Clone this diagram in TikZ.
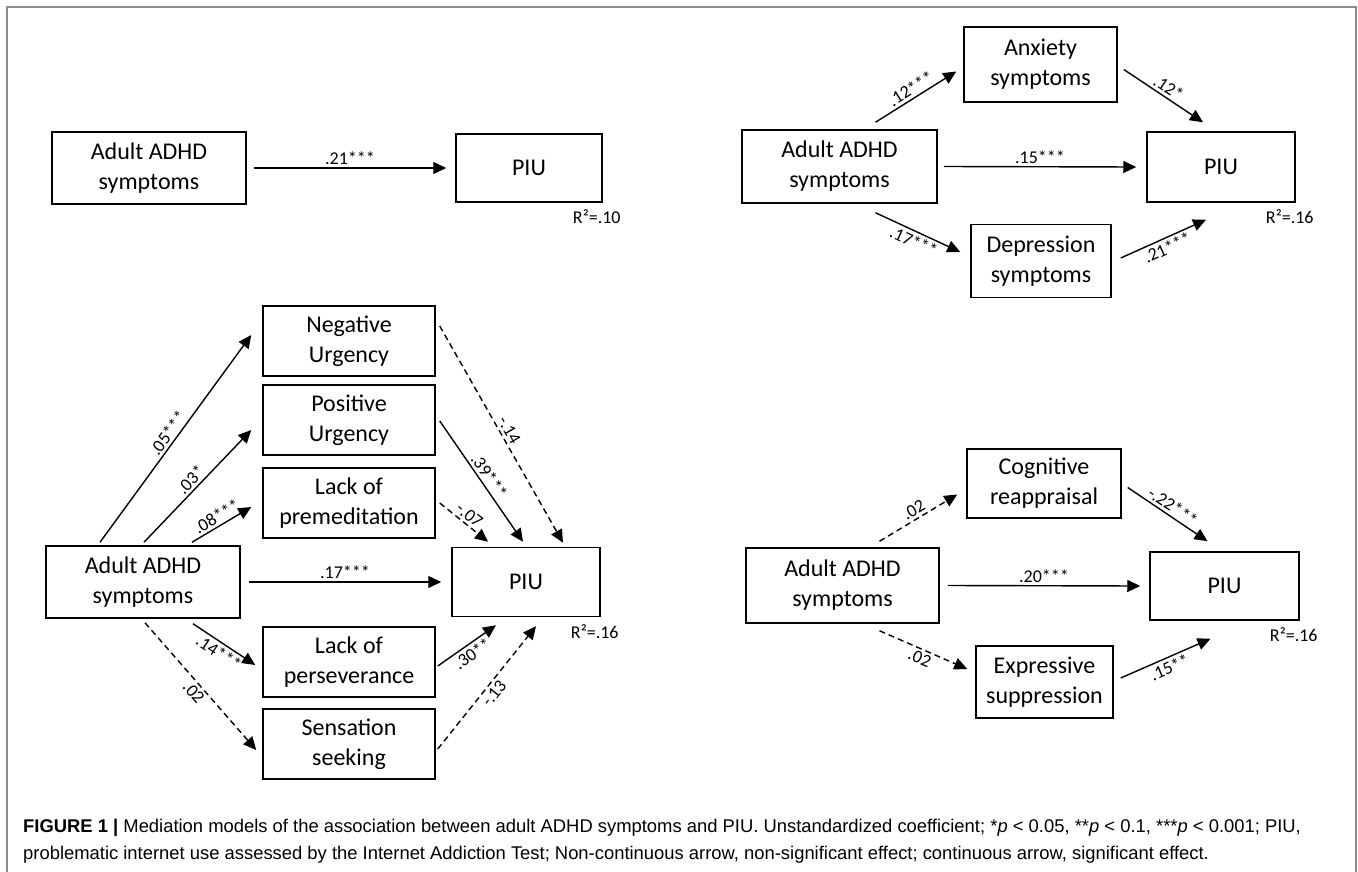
\documentclass[tikz,border=0pt]{standalone}
\usepackage{fontspec}
\setmainfont{Carlito}
\newfontfamily\capfont{Liberation Sans}
\usetikzlibrary{arrows.meta,positioning}

\begin{document}
\begin{tikzpicture}[x=1pt,y=-1pt,
    box/.style={draw, line width=1.5pt, inner sep=0pt, align=center,
        font=\fontsize{24}{30}\selectfont},
    eff/.style={line width=1.4pt, -{Triangle[length=13pt,width=12pt]}},
    noeff/.style={eff, dash pattern=on 6pt off 4pt},
    coef/.style={font=\fontsize{18}{20}\selectfont, inner sep=2.5pt},
    rsq/.style={font=\fontsize{18}{20}\selectfont, inner sep=0pt, anchor=north east},
    capt/.style={font=\capfont\fontsize{18.4}{22}\selectfont, inner sep=0pt, anchor=base west}]
    \useasboundingbox (0,0) rectangle (1358,872);
    % outer frame
    \draw[black!45, line width=1.2pt] (7,872) -- (7,7) -- (1356,7) -- (1356,872);

    % model 1: direct effect
    \node (tl_adhd) [box, minimum width=194pt, minimum height=72pt] at (149,168) {Adult ADHD\\symptoms};
    \node (tl_piu) [box, minimum width=146pt, minimum height=68pt] at (529,168) {PIU};
    \node (tl_r2) [rsq] at ([xshift=18pt,yshift=-7pt]tl_piu.south east) {R²=.10};
    \draw[eff] ([xshift=7pt]tl_adhd.east) -- node[coef, above] {.21***} ([xshift=-9pt]tl_piu.west);

    % model 2: anxiety and depression
    \node (tr_adhd) [box, minimum width=195pt, minimum height=73pt] at (839.5,166.5) {Adult ADHD\\symptoms};
    \node (tr_anx) [box, minimum width=153pt, minimum height=75pt] at (1040.5,64.5) {Anxiety\\symptoms};
    \node (tr_dep) [box, minimum width=140pt, minimum height=73pt] at (1041,261) {Depression\\symptoms};
    \node (tr_piu) [box, minimum width=148pt, minimum height=70pt] at (1221,167) {PIU};
    \node (tr_r2) [rsq] at ([xshift=18pt,yshift=-7pt]tr_piu.south east) {R²=.16};
    \draw[eff] ([xshift=36pt,yshift=7pt]tr_adhd.north) -- node[coef, sloped, above] {.12***} ([xshift=-7pt,yshift=-7pt]tr_anx.west);
    \draw[eff] ([xshift=6pt,yshift=-5pt]tr_anx.east) -- node[coef, sloped, above] {.12*} ([xshift=-18pt,yshift=9pt]tr_piu.north);
    \draw[eff] ([xshift=6pt]tr_adhd.east) -- node[coef, above] {.15***} ([xshift=-10pt]tr_piu.west);
    \draw[eff] ([xshift=36pt,yshift=-9pt]tr_adhd.south) -- node[coef, sloped, below] {.17***} ([xshift=-10pt,yshift=9pt]tr_dep.west);
    \draw[eff] ([xshift=9pt,yshift=3pt]tr_dep.east) -- node[coef, sloped, below] {.21***} ([xshift=-15pt,yshift=-17pt]tr_piu.south);

    % model 3: impulsivity (UPPS-P)
    \node (bl_adhd) [box, minimum width=194pt, minimum height=72pt] at (143,582) {Adult ADHD\\symptoms};
    \node (bl_piu) [box, minimum width=148pt, minimum height=69pt] at (526,582) {PIU};
    \node (bl_r2) [rsq] at ([xshift=18pt,yshift=-7pt]bl_piu.south east) {R²=.16};
    \node (bl_neg) [box, minimum width=172pt, minimum height=70pt] at (349,341) {Negative\\Urgency};
    \node (bl_pos) [box, minimum width=172pt, minimum height=70pt] at (349,420) {Positive\\Urgency};
    \node (bl_pre) [box, minimum width=172pt, minimum height=70pt] at (349,503) {Lack of\\premeditation};
    \node (bl_per) [box, minimum width=172pt, minimum height=70pt] at (349,662) {Lack of\\perseverance};
    \node (bl_sen) [box, minimum width=172pt, minimum height=70pt] at (349,744) {Sensation\\seeking};
    \draw[eff] ([xshift=-43pt,yshift=3pt]bl_adhd.north) -- node[coef, sloped, above] {.05***} ([xshift=-11pt,yshift=6pt]bl_neg.west);
    \draw[eff] ([xshift=1pt,yshift=3pt]bl_adhd.north) -- node[coef, sloped, above] {.03*} ([xshift=-11pt,yshift=-10pt]bl_pos.west);
    \draw[eff] ([xshift=49pt,yshift=3pt]bl_adhd.north) -- node[coef, sloped, above] {.08***} ([xshift=-11pt,yshift=-4pt]bl_pre.west);
    \draw[noeff] ([xshift=4pt,yshift=15pt]bl_neg.east) -- node[coef, sloped, above] {-.14} ([xshift=37pt,yshift=4pt]bl_piu.north);
    \draw[eff] ([xshift=4pt,yshift=-1pt]bl_pos.east) -- node[coef, sloped, above] {.39***} ([xshift=-3pt,yshift=5pt]bl_piu.north);
    \draw[noeff] ([xshift=4pt]bl_pre.east) -- node[coef, sloped, above] {-.07} ([xshift=-38pt,yshift=5pt]bl_piu.north);
    \draw[eff] ([xshift=8pt]bl_adhd.east) -- node[coef, above] {.17***} ([xshift=-10pt]bl_piu.west);
    \draw[eff] ([xshift=50pt,yshift=-5pt]bl_adhd.south) -- node[coef, sloped, below] {.14***} ([xshift=-7pt,yshift=-3pt]bl_per.west);
    \draw[noeff] ([xshift=2pt,yshift=-4pt]bl_adhd.south) -- node[coef, sloped, below] {.02} ([xshift=-6pt,yshift=-6pt]bl_sen.west);
    \draw[eff] ([xshift=2pt,yshift=-4pt]bl_per.east) -- node[coef, sloped, below] {.30**} ([xshift=-30pt,yshift=-8pt]bl_piu.south);
    \draw[noeff] ([xshift=2pt,yshift=-5pt]bl_sen.east) -- node[coef, sloped, below] {-.13} ([xshift=10pt,yshift=-9pt]bl_piu.south);

    % model 4: emotion regulation
    \node (br_adhd) [box, minimum width=193pt, minimum height=75pt] at (842.5,585.5) {Adult ADHD\\symptoms};
    \node (br_cog) [box, minimum width=154pt, minimum height=69pt] at (1044,483.5) {Cognitive\\reappraisal};
    \node (br_exp) [box, minimum width=137pt, minimum height=72pt] at (1044.5,682) {Expressive\\suppression};
    \node (br_piu) [box, minimum width=149pt, minimum height=68pt] at (1224.5,586) {PIU};
    \node (br_r2) [rsq] at ([xshift=18pt,yshift=-7pt]br_piu.south east) {R²=.16};
    \draw[noeff] ([xshift=37pt,yshift=6pt]br_adhd.north) -- node[coef, sloped, above] {.02} ([xshift=-9pt,yshift=-11pt]br_cog.west);
    \draw[eff] ([xshift=6pt,yshift=-4pt]br_cog.east) -- node[coef, sloped, above] {-.22***} ([xshift=-17pt,yshift=10pt]br_piu.north);
    \draw[eff] ([xshift=8pt]br_adhd.east) -- node[coef, above] {.20***} ([xshift=-9pt]br_piu.west);
    \draw[noeff] ([xshift=37pt,yshift=-7pt]br_adhd.south) -- node[coef, sloped, below] {.02} ([xshift=-8pt,yshift=13pt]br_exp.west);
    \draw[eff] ([xshift=7pt,yshift=4pt]br_exp.east) -- node[coef, sloped, below] {.15**} ([xshift=-14pt,yshift=-18pt]br_piu.south);

    % caption
    \node (cap1) [capt] at (23,832) {\textbf{FIGURE 1 |} Mediation models of the association between adult ADHD symptoms and PIU. Unstandardized coefficient; *\textit{p} < 0.05, **\textit{p} < 0.1, ***\textit{p} < 0.001; PIU,};
    \node (cap2) [capt] at (23,859) {problematic internet use assessed by the Internet Addiction Test; Non-continuous arrow, non-significant effect; continuous arrow, significant effect.};
\end{tikzpicture}
\end{document}
